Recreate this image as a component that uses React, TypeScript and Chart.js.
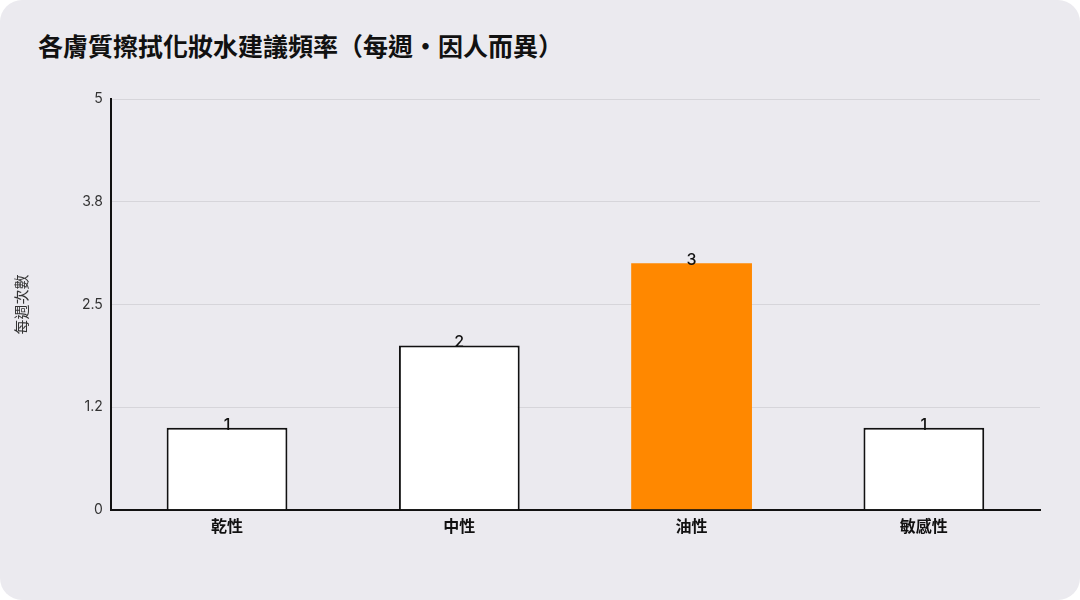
import React, { useEffect, useRef } from 'react';
import { Chart, registerables, type Plugin } from 'chart.js';

Chart.register(...registerables);

const FONT = "Inter, 'Noto Sans CJK TC', 'Noto Sans', sans-serif";

const chartTitle = '各膚質擦拭化妝水建議頻率（每週・因人而異）';
const skinTypes = ['乾性', '中性', '油性', '敏感性'];
const timesPerWeek = [1, 2, 3, 1];
const yTickLabels = ['0', '1.2', '2.5', '3.8', '5'];
const highlightIndex = 2;

// draws the value on top of each bar
const valueLabels: Plugin<'bar'> = {
  id: 'valueLabels',
  afterDatasetsDraw(chart) {
    const { ctx } = chart;
    const meta = chart.getDatasetMeta(0);
    ctx.save();
    ctx.font = `500 16px ${FONT}`;
    ctx.fillStyle = '#111';
    ctx.textAlign = 'center';
    ctx.textBaseline = 'alphabetic';
    meta.data.forEach((bar, i) => {
      ctx.fillText(String(timesPerWeek[i]), bar.x, bar.y + 2);
    });
    ctx.restore();
  }
};

export default function App() {
  const canvasRef = useRef<HTMLCanvasElement>(null);

  useEffect(() => {
    document.body.style.margin = '0';
    if (!canvasRef.current) return;

    const chart = new Chart(canvasRef.current, {
      type: 'bar',
      data: {
        labels: skinTypes,
        datasets: [
          {
            data: timesPerWeek,
            backgroundColor: timesPerWeek.map((_, i) => (i === highlightIndex ? '#ff8800' : '#ffffff')),
            borderColor: timesPerWeek.map((_, i) => (i === highlightIndex ? '#ff8800' : '#111111')),
            borderWidth: timesPerWeek.map((_, i) => (i === highlightIndex ? 0 : 2)),
            categoryPercentage: 1,
            barPercentage: 0.52
          }
        ]
      },
      options: {
        responsive: false,
        animation: false,
        devicePixelRatio: 1,
        layout: { padding: { left: 9, right: 40, top: 99, bottom: 63 } },
        plugins: {
          legend: { display: false },
          tooltip: { enabled: false }
        },
        scales: {
          x: {
            grid: { display: false },
            border: { display: true, color: '#111', width: 2 },
            ticks: {
              color: '#111',
              font: { family: FONT, size: 16, weight: 'bold' },
              padding: 0
            }
          },
          y: {
            min: 0,
            max: 5,
            ticks: {
              stepSize: 1.25,
              color: '#333',
              padding: 8,
              font: { family: FONT, size: 14 },
              callback: (_v, i) => yTickLabels[i]
            },
            grid: { color: '#d6d5da', lineWidth: 1, drawTicks: false },
            border: { display: true, color: '#111', width: 2 },
            title: {
              display: true,
              text: '每週次數',
              color: '#333',
              font: { family: FONT, size: 15 },
              padding: { bottom: 43 }
            }
          }
        }
      },
      plugins: [valueLabels]
    });

    return () => chart.destroy();
  }, []);

  return (
    <div
      style={{
        width: 1080,
        height: 600,
        background: '#ebeaef',
        borderRadius: 22,
        overflow: 'hidden',
        position: 'relative'
      }}
    >
      <div
        style={{
          position: 'absolute',
          left: 38,
          top: 31,
          fontFamily: FONT,
          fontSize: 25,
          fontWeight: 700,
          color: '#111',
          lineHeight: '32px',
          whiteSpace: 'nowrap'
        }}
      >
        {chartTitle}
      </div>
      <canvas ref={canvasRef} width={1080} height={600} style={{ position: 'absolute', left: 0, top: 0 }} />
    </div>
  );
}
